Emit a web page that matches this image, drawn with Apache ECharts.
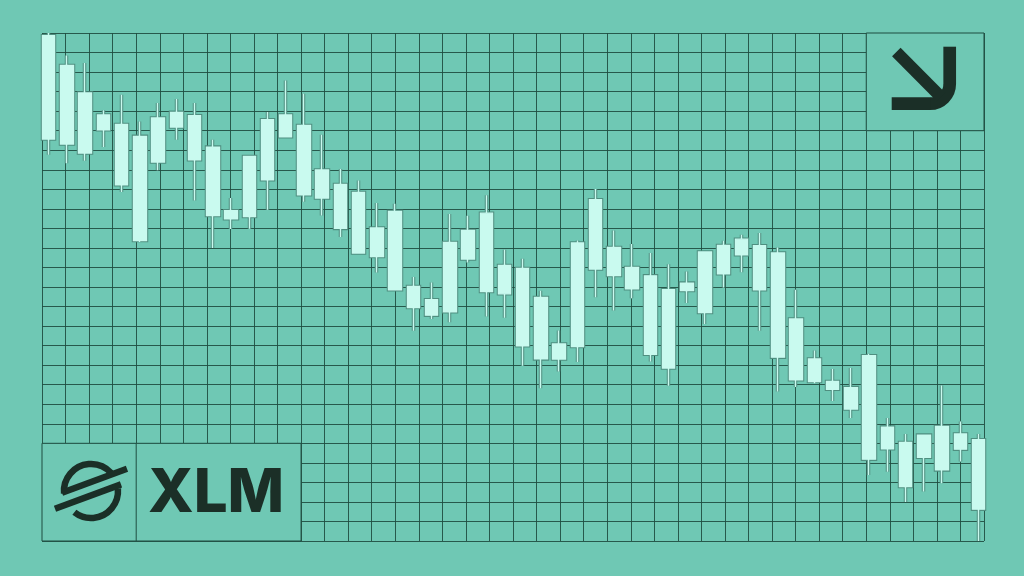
<!DOCTYPE html>
<html><head><meta charset="utf-8">
<script src="https://cdn.jsdelivr.net/npm/echarts@6/dist/echarts.min.js"></script>
<style>html,body{margin:0;padding:0;background:#6fc8b4}#c{width:1024px;height:576px}</style>
</head><body><div id="c"></div>
<script>
const categories = ['1','2','3','4','5','6','7','8','9','10','11','12','13','14','15','16','17','18','19','20','21','22','23','24','25','26','27','28','29','30','31','32','33','34','35','36','37','38','39','40','41','42','43','44','45','46','47','48','49','50','51','52'];
const highs = [26.00,24.85,24.46,22.04,22.84,21.47,22.42,22.62,22.42,20.54,17.55,19.68,21.96,23.57,22.89,20.79,19.04,18.45,17.30,17.26,13.51,13.23,16.73,16.65,17.69,14.91,14.44,12.81,10.77,15.38,18.01,15.89,15.20,14.74,14.17,13.79,14.79,15.37,15.67,15.76,15.02,12.86,9.75,8.80,8.85,9.58,6.29,5.48,5.42,7.96,6.11,5.48];
const bodyHighs = [25.86,24.34,22.93,21.80,21.32,20.71,21.65,21.94,21.77,20.16,16.90,19.68,21.56,21.80,21.27,18.99,18.25,17.84,16.02,16.87,13.03,12.35,15.28,15.89,16.78,14.10,13.95,12.46,10.08,15.25,17.47,15.02,14.00,13.57,12.86,13.20,14.79,15.13,15.45,15.11,14.74,11.36,9.32,8.16,7.85,9.48,5.83,5.04,5.42,5.86,5.48,5.18];
const bodyLows = [20.57,20.32,19.86,21.05,18.23,15.38,19.40,21.19,19.51,16.66,16.49,16.61,18.49,20.69,17.72,17.55,16.00,14.74,14.56,12.86,11.95,11.56,11.73,14.43,12.77,12.65,9.99,9.32,9.31,9.95,13.92,13.59,12.91,9.56,8.85,12.82,11.69,13.68,14.65,12.86,9.41,8.25,8.16,7.77,6.75,4.19,4.72,2.79,4.29,3.64,4.70,1.63];
const lows = [19.77,19.34,19.46,20.16,17.86,15.30,18.97,20.54,17.43,14.99,15.97,15.98,16.95,20.69,17.36,16.66,15.56,14.74,13.74,12.86,10.76,11.36,11.20,14.25,11.49,11.42,8.97,7.82,8.67,9.16,12.48,11.80,12.43,9.19,7.94,12.18,11.10,12.97,13.76,10.76,7.65,7.88,8.08,7.17,6.29,3.38,3.55,1.99,2.53,2.96,4.07,0.00];
const gridCols = 40, gridRows = 26;
const title = 'XLM';

const BG = '#6fc8b4', LINE = '#1f4d40', FILL = '#c9faef', EDGE = '#4f8f80', INK = '#1b2f27';
const candles = categories.map((c, i) => [bodyLows[i], bodyHighs[i], lows[i], highs[i]]);

const chart = echarts.init(document.getElementById('c'), null, {renderer: 'canvas'});
const gridBox = {top: 33, bottom: 35};
chart.setOption({
  backgroundColor: BG,
  animation: false,
  grid: [
    {left: 42, right: 40, top: gridBox.top, bottom: gridBox.bottom},
    {left: 39.6, right: 36.4, top: gridBox.top, bottom: gridBox.bottom}
  ],
  xAxis: [
    {type: 'value', gridIndex: 0, min: 0, max: gridCols, interval: 1,
     axisLine: {show: false}, axisTick: {show: false}, axisLabel: {show: false},
     splitLine: {show: true, showMinLine: true, showMaxLine: true, lineStyle: {color: LINE, width: 1, opacity: 0.9}}},
    {type: 'category', gridIndex: 1, data: categories, boundaryGap: true,
     axisLine: {show: false}, axisTick: {show: false}, axisLabel: {show: false}, splitLine: {show: false}}
  ],
  yAxis: [
    {type: 'value', gridIndex: 0, min: 0, max: gridRows, interval: 1,
     axisLine: {show: false}, axisTick: {show: false}, axisLabel: {show: false},
     splitLine: {show: true, showMinLine: true, showMaxLine: true, lineStyle: {color: LINE, width: 1, opacity: 0.9}}},
    {type: 'value', gridIndex: 1, min: 0, max: gridRows,
     axisLine: {show: false}, axisTick: {show: false}, axisLabel: {show: false}, splitLine: {show: false}}
  ],
  series: [
    {type: 'candlestick', xAxisIndex: 1, yAxisIndex: 1, data: candles, barWidth: 13,
     itemStyle: {color: EDGE, color0: EDGE, borderColor: EDGE, borderColor0: EDGE, borderWidth: 3.5}},
    {type: 'candlestick', xAxisIndex: 1, yAxisIndex: 1, data: candles, barWidth: 13,
     itemStyle: {color: FILL, color0: FILL, borderColor: FILL, borderColor0: FILL, borderWidth: 1.4}}
  ]
});

function px(c, r) { return chart.convertToPixel({xAxisIndex: 0, yAxisIndex: 0}, [c, r]); }
const tr0 = px(35, gridRows), tr1 = px(gridCols, gridRows - 5);
const bl0 = px(0, 5), bl1 = px(11, 0), blMid = px(4, 0);
const boxStyle = {fill: BG, stroke: LINE, lineWidth: 1};
const ink = (w) => ({fill: null, stroke: INK, lineWidth: w, lineCap: 'butt'});
const D = Math.PI / 180;
const lx = 91, ly = 491;
chart.setOption({
  graphic: [
    {type: 'rect', shape: {x: tr0[0], y: tr0[1], width: tr1[0] - tr0[0], height: tr1[1] - tr0[1]}, style: boxStyle, z: 10},
    {type: 'rect', shape: {x: bl0[0], y: bl0[1], width: bl1[0] - bl0[0], height: bl1[1] - bl0[1]}, style: boxStyle, z: 10},
    {type: 'line', shape: {x1: blMid[0], y1: bl0[1], x2: blMid[0], y2: bl1[1]}, style: {stroke: LINE, lineWidth: 1}, z: 11},
    // arrow icon
    {type: 'polyline', shape: {points: [[949.7, 46.7], [949.7, 84.2]]}, style: ink(12.7), z: 12},
    {type: 'arc', shape: {cx: 930, cy: 84, r: 19.7, startAngle: 0, endAngle: 90 * D, clockwise: true}, style: ink(12.7), z: 12},
    {type: 'polyline', shape: {points: [[930.2, 103.7], [891.7, 103.7]]}, style: ink(12.7), z: 12},
    {type: 'line', shape: {x1: 896.3, y1: 52, x2: 941, y2: 97}, style: ink(12), z: 12},
    // stellar logo
    {type: 'arc', shape: {cx: lx, cy: ly, r: 27, startAngle: 175 * D, endAngle: 318 * D, clockwise: true}, style: ink(6.5), z: 12},
    {type: 'arc', shape: {cx: lx, cy: ly, r: 27, startAngle: -5 * D, endAngle: 128 * D, clockwise: true}, style: ink(6.5), z: 12},
    {type: 'line', shape: {x1: 62, y1: 492.7, x2: 127, y2: 468.7}, style: ink(6.5), z: 12},
    {type: 'line', shape: {x1: 55, y1: 508.8, x2: 121, y2: 484.4}, style: ink(6.5), z: 12},
    {type: 'text', x: 148, y: 493.5, style: {text: title, font: '800 60px Inter', fill: INK, verticalAlign: 'middle', align: 'left'}, z: 12}
  ]
});
</script></body></html>
